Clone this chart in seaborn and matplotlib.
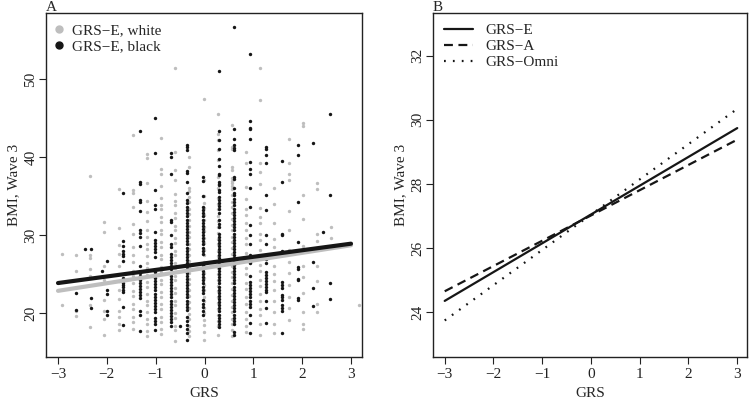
import numpy as np
import pandas as pd
import matplotlib
matplotlib.use("Agg")
import matplotlib.pyplot as plt
from matplotlib.lines import Line2D
import seaborn as sns

# ---------------- Panel A data ----------------
black_cols = [-2.64, -2.32, -2.00, -1.66, -1.33, -1.01, -0.68, -0.36, -0.03,
              0.29, 0.61, 0.94, 1.26, 1.59, 1.91, 2.23, 2.56]
black_vals = [
    [22.6, 20.4],
    [28.2, 21.9, 20.6],
    [26.7, 22.9, 22.5, 20.3, 19.7],
    [35.4, 29.2, 28.6, 27.9, 27.6, 27.3, 26.7, 24.5, 24.2, 23.9, 23.6, 23.3, 23.0, 22.7, 20.8, 18.5],
    [43.4, 36.8, 36.5, 34.5, 34.2, 33.1, 30.6, 30.3, 29.8, 28.6, 26.1, 25.1, 24.7, 24.3, 23.9,
     23.5, 23.1, 22.7, 22.3, 21.9, 20.2, 19.7, 17.7],
    [45.0, 40.6, 35.8, 33.8, 33.4, 30.4, 29.4, 29.0, 28.6, 28.2, 27.8, 27.2, 25.3, 24.9, 24.5,
     24.1, 23.7, 23.3, 22.9, 22.5, 22.1, 21.7, 21.3, 20.9, 20.5, 20.1, 19.4, 19.0, 18.6, 17.8],
    [40.6, 40.0, 37.8, 31.9, 31.7, 30.0, 28.9, 28.5, 27.6, 27.2, 26.8, 26.4, 26.0, 25.6, 25.2,
     24.8, 24.4, 24.0, 23.6, 23.2, 22.8, 22.4, 22.0, 21.6, 21.2, 20.8, 20.4, 20.0, 19.6, 19.2,
     18.8, 18.4],
    [41.5, 41.3, 40.9, 38.2, 38.0, 36.8, 35.4, 34.5, 34.1, 33.6, 33.2, 32.8, 32.4, 32.0, 31.6,
     31.2, 30.8, 30.4, 30.0, 29.6, 29.2, 28.8, 28.4, 28.0, 27.6, 27.2, 26.8, 26.4, 26.0, 25.6,
     25.2, 24.8, 24.4, 24.0, 23.6, 23.2, 22.8, 22.4, 22.0, 21.6, 21.2, 20.8, 20.4, 19.5, 19.0,
     18.5, 18.0, 17.4, 16.5],
    [37.4, 37.0, 35.0, 33.6, 33.2, 32.8, 32.4, 32.0, 31.6, 31.2, 30.8, 30.4, 30.0, 29.6, 29.2,
     28.8, 28.4, 28.0, 27.6, 26.2, 25.8, 25.4, 25.0, 24.6, 24.2, 23.8, 23.4, 23.0, 22.6, 21.7,
     21.2, 20.8, 20.2, 19.7],
    [51.0, 43.3, 42.2, 41.0, 39.8, 38.9, 37.9, 37.7, 36.8, 36.6, 36.4, 35.8, 35.5, 34.9, 34.5,
     34.1, 33.7, 33.3, 32.9, 31.9, 31.4, 31.0, 30.2, 29.8, 29.4, 29.0, 28.6, 28.2, 27.8, 27.4,
     27.0, 26.6, 26.2, 25.8, 25.4, 25.0, 24.6, 24.2, 23.8, 23.4, 23.0, 22.6, 22.2, 21.8, 21.4,
     21.0, 20.6, 20.2, 19.8, 19.4, 19.0, 18.6, 18.2],
    [56.7, 43.6, 42.3, 41.5, 41.2, 40.9, 37.4, 37.2, 36.0, 35.4, 35.2, 34.6, 34.2, 33.8, 33.4,
     33.0, 32.6, 32.2, 31.8, 31.4, 31.0, 30.6, 30.2, 29.8, 29.4, 29.0, 28.6, 28.2, 27.8, 27.4,
     27.0, 26.6, 26.2, 25.8, 25.4, 25.0, 24.6, 24.2, 23.8, 23.4, 23.0, 22.6, 22.2, 21.8, 21.4,
     21.0, 20.6, 20.2, 19.8, 19.4, 19.0, 18.6, 17.6, 17.2],
    [53.3, 44.7, 43.8, 43.6, 42.3, 39.4, 38.5, 37.8, 36.0, 33.6, 31.3, 30.0, 28.9, 27.4, 27.0,
     26.6, 26.4, 24.7, 24.0, 23.6, 23.2, 22.8, 22.4, 22.0, 21.6, 21.2, 20.8, 19.7, 18.7, 17.4],
    [41.3, 41.0, 40.3, 39.3, 35.1, 33.2, 30.0, 28.8, 27.4, 26.9, 26.4, 25.3, 24.9, 24.5, 24.1,
     23.7, 23.3, 22.9, 22.7, 21.5, 20.6, 18.7],
    [39.5, 36.8, 30.2, 30.0, 27.9, 27.6, 24.0, 23.6, 23.2, 22.3, 22.0, 21.7, 21.0, 20.6, 20.2, 17.4],
    [41.5, 40.3, 34.3, 29.1, 25.9, 25.7, 24.4, 24.2, 21.9, 21.7],
    [41.8, 26.6, 23.2, 20.9],
    [45.5, 35.1, 23.9, 21.8],
]
black_extra_x = [-2.45, -2.10, -0.51, 2.43]
black_extra_y = [28.2, 25.4, 18.3, 30.4]

grey_cols = [-2.92, -2.63, -2.34, -2.05, -1.76, -1.47, -1.18, -0.89, -0.60, -0.31, -0.02,
             0.27, 0.56, 0.85, 1.14, 1.43, 1.72, 2.01, 2.30, 2.59, 3.17]
grey_vals = [
    [27.6, 21.0],
    [27.4, 25.4, 20.3, 19.6],
    [37.6, 27.4, 27.0, 25.6, 24.7, 21.0, 18.2],
    [31.7, 30.4, 26.1, 24.2, 21.7, 20.2, 19.3, 17.2],
    [35.9, 30.9, 28.7, 27.6, 26.0, 24.1, 22.9, 21.8, 20.3, 19.5, 18.6, 17.8],
    [42.9, 35.8, 35.4, 33.6, 31.4, 30.1, 28.5, 27.4, 26.6, 25.4, 24.7, 23.8, 22.8, 22.2, 21.2,
     20.5, 19.5, 18.8, 17.9],
    [40.4, 39.9, 36.7, 34.4, 33.0, 31.8, 30.6, 29.7, 28.8, 28.2, 27.3, 26.4, 25.8, 24.9, 24.0,
     23.4, 22.5, 21.6, 21.0, 20.1, 19.2, 18.6, 17.7, 17.1],
    [42.5, 38.5, 37.9, 36.3, 34.8, 33.9, 33.3, 32.3, 31.7, 30.7, 30.1, 29.1, 28.5, 27.5, 26.9,
     25.9, 25.3, 24.3, 23.7, 22.7, 22.1, 21.1, 20.5, 19.5, 18.9, 17.9, 17.3],
    [51.5, 40.7, 38.3, 37.1, 35.3, 34.4, 33.8, 32.8, 32.2, 31.2, 30.6, 29.6, 29.0, 28.0, 27.4,
     26.4, 25.8, 24.8, 24.2, 23.2, 22.6, 21.6, 21.0, 20.0, 19.4, 18.4, 17.8, 16.4],
    [40.0, 38.7, 36.1, 35.7, 34.9, 34.2, 33.4, 32.7, 31.9, 31.2, 30.4, 29.7, 28.9, 28.2, 27.4,
     26.7, 25.9, 25.2, 24.4, 23.7, 22.9, 22.2, 21.4, 20.7, 19.9, 19.2, 18.4, 17.7, 17.0],
    [47.5, 37.1, 35.0, 34.1, 33.5, 32.6, 32.0, 31.1, 30.5, 29.6, 29.0, 28.1, 27.5, 26.6, 26.0,
     25.1, 24.5, 23.6, 23.0, 22.1, 21.5, 20.6, 20.0, 19.1, 18.5, 17.6, 16.6],
    [45.5, 43.0, 42.2, 40.9, 39.6, 37.5, 36.0, 34.8, 34.0, 33.3, 32.5, 31.8, 31.0, 30.3, 29.5,
     28.8, 28.0, 27.3, 26.5, 25.8, 25.0, 24.3, 23.5, 22.8, 22.0, 21.3, 20.5, 19.8, 19.0, 18.3, 17.2],
    [44.1, 41.3, 41.1, 38.7, 38.4, 37.3, 37.0, 36.7, 36.3, 35.9, 35.1, 34.3, 33.6, 32.8, 32.1,
     31.3, 30.6, 29.8, 29.1, 28.3, 27.6, 26.8, 26.1, 25.3, 24.6, 23.8, 23.1, 22.3, 21.6, 20.8,
     20.1, 19.3, 18.6, 17.8, 17.0],
    [40.7, 39.2, 36.2, 34.6, 33.4, 32.6, 31.5, 30.7, 29.6, 28.8, 27.7, 26.9, 25.8, 25.0, 23.9,
     23.1, 22.0, 21.2, 20.1, 19.3, 18.4, 17.6],
    [51.4, 47.3, 39.2, 38.1, 36.6, 33.5, 32.3, 31.5, 30.2, 29.4, 28.1, 27.3, 26.2, 25.4, 24.3,
     23.5, 22.4, 21.6, 20.5, 19.7, 18.6, 17.2],
    [36.0, 34.0, 31.5, 29.5, 28.5, 27.4, 26.1, 25.0, 24.1, 23.0, 21.6, 20.1, 18.6, 17.4],
    [42.3, 39.2, 37.9, 37.1, 33.1, 30.6, 28.1, 26.6, 25.1, 23.6, 22.1, 20.6, 19.1],
    [44.4, 44.0, 35.2, 32.1, 28.6, 26.1, 24.6, 22.6, 20.1, 18.6, 18.0],
    [36.7, 35.9, 30.1, 29.3, 26.1, 24.1, 21.1, 20.1],
    [31.0, 29.6],
    [21.0],
]

# fitted lines, panel A
fit_x = [-3, 3]
fit_black = [23.85, 28.9]
fit_white = [22.85, 28.7]

# ---------------- Panel B data ----------------
grs_x = [-3, 3]
grs_e = [24.35, 29.74]
grs_a = [24.65, 29.38]
grs_omni = [23.74, 30.34]

x_ticks = [-3, -2, -1, 0, 1, 2, 3]
x_tick_labels = ["\u22123", "\u22122", "\u22121", "0", "1", "2", "3"]
yA_ticks = [20, 30, 40, 50]
yB_ticks = [24, 26, 28, 30, 32]

# ---------------- build frames ----------------
bx, by = [], []
for c, vals in zip(black_cols, black_vals):
    bx += [c] * len(vals)
    by += vals
bx += black_extra_x
by += black_extra_y
gx, gy = [], []
for c, vals in zip(grey_cols, grey_vals):
    gx += [c] * len(vals)
    gy += vals
df_b = pd.DataFrame({"GRS": bx, "BMI": by})
df_g = pd.DataFrame({"GRS": gx, "BMI": gy})

sns.set_style("ticks")
plt.rcParams['font.family'] = ['Liberation Serif', 'DejaVu Serif']
plt.rcParams['font.size'] = 11
plt.rcParams['axes.linewidth'] = 1.0
plt.rcParams['xtick.major.size'] = 5
plt.rcParams['ytick.major.size'] = 5
plt.rcParams['xtick.major.pad'] = 3
plt.rcParams['ytick.major.pad'] = 1.2
plt.rcParams['xtick.color'] = '#222222'
plt.rcParams['ytick.color'] = '#222222'

GREY = '#BEBEBE'
BLACK = '#161616'

fig = plt.figure(figsize=(7.5, 4.01), dpi=100)
axA = fig.add_axes([46/750, 1-357/401, (362-46)/750, (357-13)/401])
axB = fig.add_axes([433/750, 1-357/401, (747-433)/750, (357-13)/401])


def style_axes(ax, yticks):
    ax.set_xticks(x_ticks)
    ax.set_xticklabels(x_tick_labels)
    ax.set_yticks(yticks)
    ax.set_xlabel("GRS", labelpad=4)
    ax.set_ylabel("BMI, Wave 3", labelpad=3)
    for lab in ax.get_yticklabels():
        lab.set_rotation(90)
        lab.set_va('center')
    for sp in ax.spines.values():
        sp.set_visible(True)
        sp.set_color('#222222')


# Panel A
sns.scatterplot(data=df_g, x="GRS", y="BMI", color=GREY, s=6, linewidth=0, ax=axA, zorder=2)
sns.scatterplot(data=df_b, x="GRS", y="BMI", color=BLACK, s=6, linewidth=0, ax=axA, zorder=3)
sns.lineplot(x=fit_x, y=fit_white, color=GREY, linewidth=3.0, ax=axA, zorder=4)
sns.lineplot(x=fit_x, y=fit_black, color=BLACK, linewidth=3.0, ax=axA, zorder=5)
axA.set_xlim(-3.246, 3.225)
axA.set_ylim(14.36, 58.5)
style_axes(axA, yA_ticks)
hA = [Line2D([], [], marker='o', linestyle='none', color=GREY, markersize=5),
      Line2D([], [], marker='o', linestyle='none', color=BLACK, markersize=5)]
axA.legend(hA, ["GRS\u2212E, white", "GRS\u2212E, black"], loc='upper left',
           bbox_to_anchor=(-0.018, 1.0), frameon=False, handlelength=1.0,
           handletextpad=0.4, labelspacing=0.15, borderaxespad=0.3, fontsize=11)
axA.text(0, 1.006, "A", transform=axA.transAxes, ha='left', va='baseline', fontsize=11)

# Panel B
sns.lineplot(x=grs_x, y=grs_e, color=BLACK, linewidth=1.6, ax=axB)
sns.lineplot(x=grs_x, y=grs_a, color=BLACK, linewidth=1.6, ax=axB)
axB.lines[-1].set_linestyle((0, (4, 2.5)))
sns.lineplot(x=grs_x, y=grs_omni, color=BLACK, linewidth=1.6, ax=axB)
axB.lines[-1].set_linestyle((0, (0.8, 3.2)))
axB.set_xlim(-3.24, 3.2)
axB.set_ylim(22.6, 33.33)
style_axes(axB, yB_ticks)
hB = [Line2D([], [], color=BLACK, linewidth=1.6),
      Line2D([], [], color=BLACK, linewidth=1.6, linestyle=(0, (4, 2.5))),
      Line2D([], [], color=BLACK, linewidth=1.6, linestyle=(0, (0.8, 3.2)))]
axB.legend(hB, ["GRS\u2212E", "GRS\u2212A", "GRS\u2212Omni"], loc='upper left',
           bbox_to_anchor=(0.0, 1.0), frameon=False, handlelength=1.9,
           handletextpad=0.8, labelspacing=0.15, borderaxespad=0.3, fontsize=11)
axB.text(0, 1.006, "B", transform=axB.transAxes, ha='left', va='baseline', fontsize=11)

fig.savefig("out.png", dpi=100)
